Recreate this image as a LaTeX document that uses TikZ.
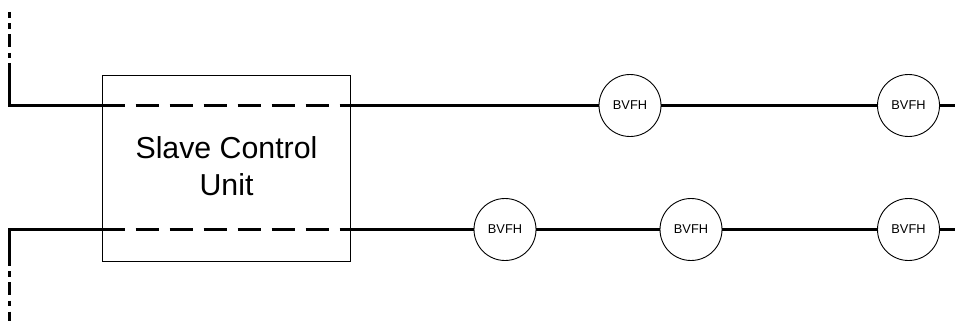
\documentclass[tikz,border=0pt]{standalone}
\usepackage{fontspec}
\setmainfont{Liberation Sans}
\usetikzlibrary{arrows,calc}
\tikzset{>=stealth,
  bus/.style={line width=2.2pt,black},
  busdash/.style={bus,dash pattern=on 23.5pt off 10.5pt},
  busdot/.style={bus,dash pattern=on 13pt off 5.5pt on 5.5pt off 5.5pt},
  hub/.style={circle,draw,fill=white,line width=0.9pt,minimum size=62pt,inner sep=0pt,font=\fontsize{12.8}{15}\selectfont},
  unitbox/.style={rectangle,draw,line width=1pt,minimum width=248pt,minimum height=186pt,inner sep=0pt},
  unittext/.style={inner sep=0pt,align=center,font=\fontsize{30.3}{37}\selectfont}}

\begin{document}
\begin{tikzpicture}[x=1pt,y=-1pt]
\useasboundingbox (0,0) rectangle (955,321);
\node[unitbox] (U) at (226.5,168) {};
\node[unittext] (UT) at (226.5,166) {Slave Control\\Unit};
\node[hub] (A) at (630,105.5) {BVFH};
\node[hub] (B) at (908.5,105.5) {BVFH};
\node[hub] (C) at (505,229.5) {BVFH};
\node[hub] (D) at (691,229.5) {BVFH};
\node[hub] (E) at (908.5,229.5) {BVFH};
\coordinate (TT) at (9.5,12);
\coordinate (TS) at (9.5,63);
\coordinate (TI) at (101.5,105.5);
\coordinate (TO) at (350.5,105.5);
\coordinate (TR) at (955,105.5);
\coordinate (BB) at (9.5,321);
\coordinate (BS) at (9.5,265.7);
\coordinate (BI) at (101.5,229.5);
\coordinate (BO) at (350.5,229.5);
\coordinate (BR) at (955,229.5);
% top line
\draw[busdot,dash phase=7pt] (TT) -- (TS);
\draw[bus] (TS) |- (TI);
\draw[busdash] (TI) -- (TO);
\path[bus] (TO) edge (A);
\path[bus] (A) edge (B);
\path[bus] (B) edge (TR);
% bottom line
\draw[busdot,dash phase=13pt] (BS) -- (BB);
\draw[bus] (BS) |- (BI);
\draw[busdash] (BI) -- (BO);
\path[bus] (BO) edge (C);
\path[bus] (C) edge (D);
\path[bus] (D) edge (E);
\path[bus] (E) edge (BR);
\end{tikzpicture}
\end{document}
